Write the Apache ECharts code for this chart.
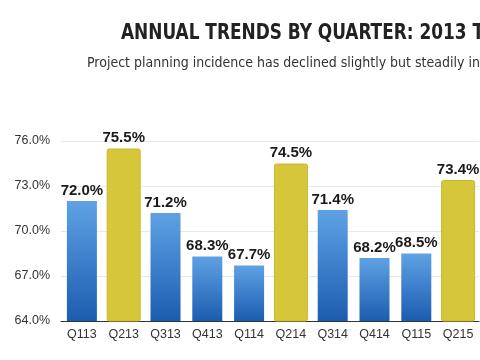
<!DOCTYPE html>
<html>
<head>
<meta charset="utf-8">
<script src="https://cdn.jsdelivr.net/npm/echarts@6/dist/echarts.min.js"></script>
<style>
html,body{margin:0;padding:0;background:#fff;overflow:hidden;}
#c{width:480px;height:360px;}
</style>
</head>
<body>
<div id="c"></div>
<script>
var categories = ['Q113','Q213','Q313','Q413','Q114','Q214','Q314','Q414','Q115','Q215'];
var values = [72.0, 75.5, 71.2, 68.3, 67.7, 74.5, 71.4, 68.2, 68.5, 73.4];
var highlighted = ['Q213','Q214','Q215'];
var yTicks = [64, 67, 70, 73, 76];
var titleText = 'ANNUAL TRENDS BY QUARTER: 2013 TO 2015';
var subtitleText = 'Project planning incidence has declined slightly but steadily in';

var AXMIN = yTicks[0], AXMAX = yTicks[yTicks.length - 1], STEP = yTicks[1] - yTicks[0];
var blueData = categories.map(function (c, i) { return highlighted.indexOf(c) >= 0 ? null : values[i]; });
var yellowData = categories.map(function (c, i) { return highlighted.indexOf(c) >= 0 ? values[i] : null; });

var narrow = "'DejaVu Sans Condensed', 'Liberation Sans Narrow', sans-serif";
var sans = "'Liberation Sans', Arial, sans-serif";
var labelStyle = {
  show: true, position: 'top', distance: 3,
  formatter: function (p) { return p.value.toFixed(1) + '%'; },
  fontFamily: sans, fontWeight: 'bold', fontSize: 15, color: '#1a1a1a'
};

var chart = echarts.init(document.getElementById('c'), null, {renderer: 'canvas'});
chart.setOption({
  animation: false,
  backgroundColor: '#ffffff',
  graphic: [{
    type: 'text', x: 121, y: 33, scaleX: 0.855, scaleY: 1,
    style: {text: titleText, font: 'bold 22px ' + narrow, fill: '#222222', verticalAlign: 'middle', align: 'left'}
  }, {
    type: 'text', x: 87, y: 63,
    style: {text: subtitleText, font: 'normal 14px ' + narrow, fill: '#333333', verticalAlign: 'middle', align: 'left'}
  }],
  grid: {left: 61, right: 1, top: 141, bottom: 39, containLabel: false},
  xAxis: [{
    type: 'category', data: categories,
    axisLine: {show: true, lineStyle: {color: '#333333', width: 1}},
    axisTick: {show: false},
    axisLabel: {margin: 7, fontFamily: sans, fontSize: 12.5, color: '#333333'}
  }, {
    type: 'category', data: categories, show: false
  }],
  yAxis: [{
    type: 'value', min: AXMIN, max: AXMAX, show: false, splitLine: {show: false}
  }, {
    type: 'value', min: 0, max: AXMAX - AXMIN, interval: STEP, position: 'left',
    axisLine: {show: false}, axisTick: {show: false},
    splitLine: {show: true, lineStyle: {color: '#e8e8e8', width: 1}},
    axisLabel: {
      margin: 11, fontFamily: sans, fontSize: 12.5, color: '#333333',
      formatter: function (v) { return (v + AXMIN).toFixed(1) + '%'; }
    }
  }],
  series: [{
    type: 'bar', xAxisIndex: 0, yAxisIndex: 0, data: blueData, barWidth: 30,
    itemStyle: {
      color: new echarts.graphic.LinearGradient(0, 0, 0, 1, [
        {offset: 0, color: '#5ea2e4'}, {offset: 1, color: '#1c5cb0'}
      ])
    },
    label: labelStyle
  }, {
    type: 'bar', xAxisIndex: 1, yAxisIndex: 0, data: yellowData, barWidth: 34,
    itemStyle: {color: '#d6c73a', borderColor: '#c8b82e', borderWidth: 1, borderRadius: 2},
    label: labelStyle
  }]
});
</script>
</body>
</html>
